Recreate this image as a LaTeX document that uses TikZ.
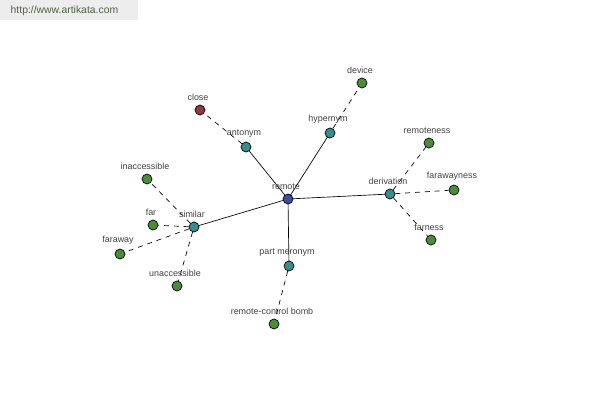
\documentclass[tikz,border=0pt]{standalone}
\usepackage{fontspec}
\setmainfont{Liberation Sans}
\pgfdeclarelayer{edges}
\pgfsetlayers{edges,main}
\begin{document}
\begin{tikzpicture}[x=0.75pt,y=-0.75pt,
  dot/.style={circle,draw=black,line width=0.5pt,minimum size=7.5pt,inner sep=0pt,
    label={[label distance=-0.5pt,xshift=-1.5pt,text=black!75,font=\fontsize{6.7}{7}\selectfont]above:#1}},
  root/.style={dot=#1,fill=rootc},
  hub/.style={dot=#1,fill=hubc},
  leaf/.style={dot=#1,fill=leafc},
  anti/.style={dot=#1,fill=antic},
  main/.style={line width=0.5pt,black},
  sub/.style={line width=0.5pt,black,dash pattern=on 3.7pt off 3.7pt}]
\definecolor{rootc}{HTML}{3F4E96}
\definecolor{hubc}{HTML}{3A8C8C}
\definecolor{leafc}{HTML}{4B8B3B}
\definecolor{antic}{HTML}{8E3B3B}
\definecolor{wmc}{HTML}{4F6240}
\useasboundingbox (0,0) rectangle (600,400);
\fill[black!7] (0,0) rectangle (138,20);
\node[anchor=west,text=wmc,font=\fontsize{7.8}{8}\selectfont] (wm) at (6,10.5) {http://www.artikata.com};
% nodes
\node[root=remote] (remote) at (288,199) {};
\node[hub=antonym] (antonym) at (246,147) {};
\node[anti=close] (close) at (200,110) {};
\node[hub=hypernym] (hypernym) at (330,133) {};
\node[leaf=device] (device) at (362,83) {};
\node[hub=derivation] (derivation) at (390,194) {};
\node[leaf=remoteness] (remoteness) at (429,143) {};
\node[leaf=farawayness] (farawayness) at (454,190) {};
\node[leaf=farness] (farness) at (431,240) {};
\node[hub=similar] (similar) at (194,227) {};
\node[leaf=inaccessible] (inaccessible) at (147,179) {};
\node[leaf=far] (far) at (153,225) {};
\node[leaf=faraway] (faraway) at (120,254) {};
\node[leaf=unaccessible] (unaccessible) at (177,286) {};
\node[hub=part meronym] (partmeronym) at (289,266) {};
\node[leaf=remote-control bomb] (bomb) at (274,324) {};
% edges
\begin{pgfonlayer}{edges}
\draw[main] (remote.center) -- (antonym.center);
\draw[main] (remote.center) -- (hypernym.center);
\draw[main] (remote.center) -- (derivation.center);
\draw[main] (remote.center) -- (similar.center);
\draw[main] (remote.center) -- (partmeronym.center);
\draw[sub] (antonym) -- (close);
\draw[sub] (hypernym) -- (device);
\draw[sub] (derivation) -- (remoteness);
\draw[sub] (derivation) -- (farawayness);
\draw[sub] (derivation) -- (farness);
\draw[sub] (similar) -- (inaccessible);
\draw[sub] (similar) -- (far);
\draw[sub] (similar) -- (faraway);
\draw[sub] (similar) -- (unaccessible);
\draw[sub] (partmeronym) -- (bomb);
\end{pgfonlayer}
\end{tikzpicture}
\end{document}
